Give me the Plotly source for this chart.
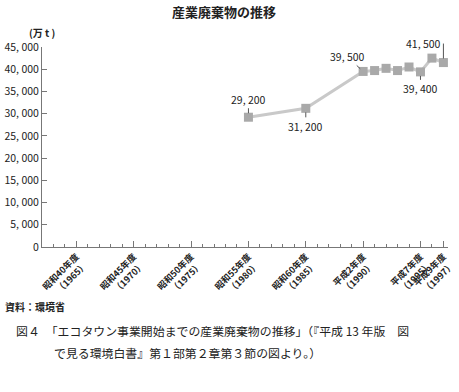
import plotly.graph_objects as go

years = [1980, 1985, 1990, 1991, 1992, 1993, 1994, 1995, 1996, 1997]
values = [29200, 31200, 39500, 39700, 40200, 39700, 40500, 39400, 42500, 41500]

y_ticks = [0, 5000, 10000, 15000, 20000, 25000, 30000, 35000, 40000, 45000]
y_ticktext = ["0", "5, 000", "10, 000", "15, 000", "20, 000", "25, 000",
              "30, 000", "35, 000", "40, 000", "45, 000"]

x_ticks = [1965, 1970, 1975, 1980, 1985, 1990, 1995, 1997]
x_ticktext = ["昭和40年度<br>（1965）", "昭和45年度<br>（1970）", "昭和50年度<br>（1975）",
              "昭和55年度<br>（1980）", "昭和60年度<br>（1985）", "平成2年度<br>（1990）",
              "平成7年度<br>（1995）", "平成9年度<br>（1997）"]

# labelled points: year, value, text
lab_years = [1980, 1985, 1990, 1995, 1997]
lab_values = [29200, 31200, 39500, 39400, 41500]
lab_text = ["29, 200", "31, 200", "39, 500", "39, 400", "41, 500"]

FONT = "Noto Sans CJK JP"
W, H = 459, 392
ML, MR, MT, MB = 42, 11, 47, 145

fig = go.Figure()
fig.add_trace(go.Scatter(
    x=years, y=values, mode="lines+markers",
    line=dict(color="#c9c9c9", width=3),
    marker=dict(symbol="square", size=9, color="#a9a9a9"),
    showlegend=False, cliponaxis=False,
))

offs = {
    1980: dict(ax=0, ay=-18, xanchor="center"),
    1985: dict(ax=0, ay=18, xanchor="center"),
    1990: dict(ax=-16, ay=-15, xanchor="center"),
    1995: dict(ax=0, ay=17, xanchor="center"),
    1997: dict(ax=0, ay=-19, xanchor="right"),
}
for yr, v, t in zip(lab_years, lab_values, lab_text):
    o = offs[yr]
    fig.add_annotation(
        x=yr, y=v, text=t, showarrow=True, arrowhead=0, arrowwidth=1,
        arrowcolor="#555", ax=o["ax"], ay=o["ay"], xanchor=o["xanchor"],
        yanchor="middle", standoff=4,
        font=dict(family=FONT, size=10.5, color="#222"),
    )


def pix(xp, yp, text, size, anchor="left", bold=False, color="#222"):
    fig.add_annotation(
        text=text,
        x=(xp - ML) / (W - ML - MR), y=1 - (yp - MT) / (H - MT - MB),
        xref="paper", yref="paper", showarrow=False, xanchor=anchor, yanchor="middle",
        font=dict(family=FONT, size=size, color=color, weight=("bold" if bold else "normal")),
    )


pix(224, 11, "産業廃棄物の推移", 13, anchor="center", bold=True)
pix(27, 33, "(万 t )", 10, bold=True)
pix(3, 306, "資料：環境省", 10, bold=True)
pix(14, 330, "図４　「エコタウン事業開始までの産業廃棄物の推移」（『平成 13 年版　図", 11.9)
pix(52, 352, "で見る環境白書』第１部第２章第３節の図より。）", 11.9)

fig.update_layout(
    width=W, height=H,
    margin=dict(l=ML, r=MR, t=MT, b=MB),
    paper_bgcolor="white", plot_bgcolor="white",
    font=dict(family=FONT, color="#222"),
    xaxis=dict(
        range=[1962, 1997.4], showgrid=False, zeroline=False, automargin=False,
        showline=True, linecolor="#777", linewidth=1,
        tickmode="array", tickvals=x_ticks, ticktext=x_ticktext,
        tickangle=-45, ticks="inside", ticklen=6, tickcolor="#777",
        tickfont=dict(family=FONT, size=9, color="#222", weight="bold"),
        minor=dict(dtick=1, tick0=1962, ticks="inside", ticklen=3, tickcolor="#777"),
    ),
    yaxis=dict(
        range=[0, 45000], showgrid=False, zeroline=False, automargin=False,
        showline=True, linecolor="#777", linewidth=1,
        tickmode="array", tickvals=y_ticks, ticktext=y_ticktext,
        ticks="inside", ticklen=5, tickcolor="#777",
        tickfont=dict(family=FONT, size=10.5, color="#222"),
    ),
)

fig.write_html("out.html")
